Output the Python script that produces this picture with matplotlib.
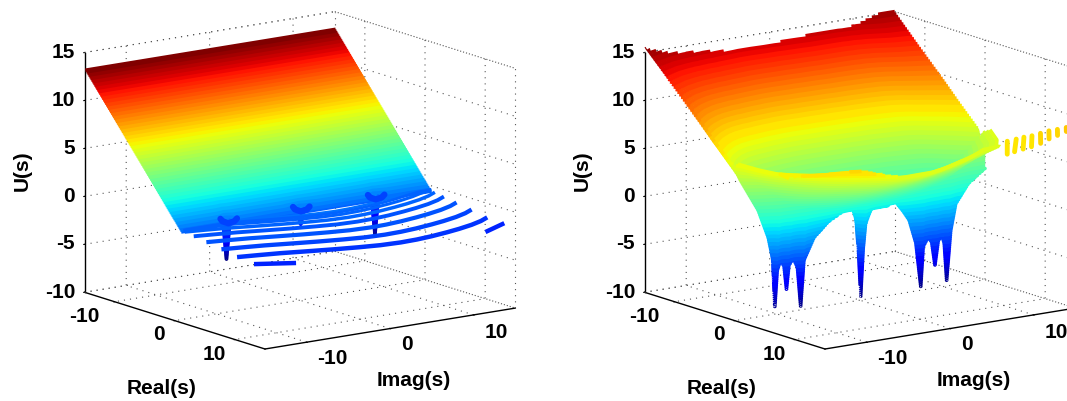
import numpy as np
import matplotlib
matplotlib.use("Agg")
import matplotlib.pyplot as plt
from matplotlib.colors import Normalize
from mpl_toolkits.mplot3d import proj3d

plt.rcParams['font.family'] = ['Liberation Sans', 'DejaVu Sans']

# ---- axis text ----
tick_xy = [-10, 0, 10]
tick_z = [-10, -5, 0, 5, 10, 15]
xy_labels = ['-10', '0', '10']
z_labels = ['-10', '-5', '0', '5', '10', '15']

# pixel positions of the tick texts in the left panel (right panel is the same shifted)
real_label_px = [(84, 317), (158.5, 335), (214, 355)]
imag_label_px = [(332, 358), (406.5, 345), (496, 332)]
z_label_y = [292, 244, 196, 148, 100, 52]

# ---- left panel: surface ----
left_imag = [-15, -11, -9.6, -9.2, -8.8, -8.4, -8, -2, -0.4, 0.1, 0.6, 2, 7.6, 8.6, 9, 9.4, 10.4, 15]
left_real = [-15, -10, -5, -2, -0.5, -0.15, 0, 0.15, 0.5, 1.2]
left_plane = [13.3, 9.0, 4.7, 2.1, 0.8, 0.5, 0.4, 0.25, -0.05, -0.65]
left_needle_weight = [0, 0, 0, 0, 0.04, 0.5, 1, 0.5, 0.04, 0]
left_needle = [0.4, 0.4, 0.3, -0.8, -4.6, -0.8, 0.3, 0.4, -0.4, -2.2, -0.4, 0.4, 0.4, -0.8, -4.5, -0.8, 0.3, 0.4]

arc_imag = [-14.6, -12.5, -10.2, -7.5, -5, -2.5, -0.3, 2, 4, 6, 8.2, 10, 12, 13.7, 15.1]
arc_real = [9.8, 10.3, 10.9, 11.8, 12.6, 13.3, 13.8, 14, 13.9, 13.6, 13.1, 12.6, 11.9, 11.1, 10.2]
arc_shift = [0, -2.6, -5.1, -7.2, -8.7, -9.8, -10.5, -11]
arc_level = [-1.5, -1.2, -0.95, -0.75, -0.6, -0.5, -0.45, -0.4]
arc_width = [3.2, 3.1, 3.0, 2.8, 2.5, 2.2, 2.0, 1.8]
arc_floor = 0.9
short_imag = [-14.3, -10.7]
short_real = [12.2, 14.2]
short2_imag = [12, 15.7]
short2_real = [14.2, 12.2]
short_level = -1.8

funnel_imag = [-8, 0.7, 9.6]
funnel_real = [-0.8, -0.8, -0.7]
funnel_level = -1.0
funnel_shape_imag = [0.5, 0.03, 0, 0.97, 1.9]
funnel_shape_real = [-2, -1.03, 0, -0.35, -1.2]

# ---- right panel: surface ----
right_imag = [-15, -14.3, -12.2, -11, -10.44, -10.2, -9.9, -9.5, -9.1, -8.8, -8.5, -8, -7.5, -7.1, -6.7, -5.5,
              -4.5, -3.8, -2.3, -0.8, -0.2, 0.1, 0.5, 1.3, 3.4, 4.3, 5.2, 5.9, 6.7, 7.3,
              7.6, 8.2, 8.6, 9, 9.4, 9.8, 10.1, 10.4, 10.9, 11.5, 13, 15]
right_needle = [6, 4.5, 1.1, -1.9, -4.3, -9.4, -5.5, -4.5, -5.2, -7.7, -5.2, -4.5, -5.5, -9.7, -4.9, -2.7,
                -1.9, -1.3, -0.6, -0.4, -2.5, -9.7, -2.5, -0.8, -0.6, -0.4, -1.5, -2.5, -5, -9.7,
                -5.5, -4.6, -5.2, -7.7, -5.2, -4.6, -5.5, -9.5, -4.3, -1.6, 0.3, 1.6]
right_top = [15.5, 15.2, 14.6, 14.4, 14.3, 14.3, 14.2, 14.2, 14.2, 14.1, 14.1, 14, 14, 14, 13.9, 13.8,
             13.7, 13.6, 13.6, 13.7, 13.7, 13.7, 13.7, 13.8, 13.9, 14, 14, 14, 14, 14,
             14, 14, 14.1, 14.1, 14.1, 14.2, 14.3, 14.3, 14.4, 14.6, 15, 15]
right_valley = [6.5, 5.4, 3.6, 2.6, 2.1, 2, 1.8, 1.5, 1.3, 1.2, 1.1, 0.9, 0.8, 0.7, 0.6, 0.3,
                0.2, 0.1, 0, 0, 0, 0, 0, 0, 0, 0.1, 0.15, 0.2, 0.4, 0.5,
                0.6, 0.7, 0.8, 0.9, 1, 1.2, 1.4, 1.6, 2, 2.6, 3.8, 5.5]
right_rim_real = [9, 11, 13, 13.5, 13.8, 13.9, 14, 14, 14, 14, 13.9, 13.8, 13.7, 13.6, 13.5, 13.3,
                  13.2, 13.1, 13.05, 13, 12.9, 12.7, 12.6, 12.3, 11.3, 10.8, 10.4, 10, 9.6, 9.2,
                  9, 8.7, 8.4, 8, 8, 7.9, 7.9, 7.8, 7.8, 7.2, 5, 0.8]
right_rim_u = [6.6, 7.1, 7.5, 7.6, 7.6, 7.6, 7.6, 7.5, 7.4, 7.3, 7.2, 7, 6.9, 6.8, 6.6, 6.3,
               6.1, 6, 6, 6, 6, 6, 6, 6, 6, 6, 6, 6, 6, 6,
               6, 6, 6, 6, 6, 6, 6, 6, 6, 6, 5.9, 5.8]
back_real = [-15, -11, -7, -4, -2, -1]
back_fraction = [1, 0.71, 0.43, 0.21, 0.07, 0]
near_real = [-0.4, 0]
near_weight = [0.5, 1]
front_part = [0.03, 0.08, 0.2, 0.4, 0.7, 1.0]
front_fraction = [0, 0.06, 0.2, 0.42, 0.72, 1.0]
front_weight = [0.5, 0, 0, 0, 0, 0]

tail_imag_low = [7.35, 8.3, 9.4, 10.4, 11.5, 12.8, 14.1, 15.3]
tail_real_low = [14.3, 14.2, 14.1, 14.1, 14.1, 13.7, 13.3, 13.1]
tail_imag_high = [10.6, 11.6, 12.45, 13.2, 14, 14.8, 15.6, 16.3]
tail_real_high = [9.8, 9.9, 10, 10.3, 10.6, 10.9, 11.2, 11.7]
tail_u = [7, 7.1, 7.2, 7.3, 7.5, 7.7, 7.8, 8]

# ---- colour ranges ----
left_range = (-4.6, 13.3)
right_range = (-10, 15.9)
jet = matplotlib.colormaps['jet'].resampled(64)

fig = plt.figure(figsize=(10.67, 4.01), dpi=100)
FW, FH = 1067, 401
FS = 15


def to_px(ax, x, y, z):
    xs, ys, _ = proj3d.proj_transform(x, y, z, ax.get_proj())
    return ax.transData.transform((xs, ys))


def make_axes():
    ax = fig.add_axes([0.1, 0.05, 0.5, 0.5], projection='3d', proj_type='ortho')
    ax.computed_zorder = False
    ax.patch.set_alpha(0)
    ax.view_init(elev=13.1, azim=-125.8)
    ax.set_box_aspect((309, 309, 246.5), zoom=1.0)
    return ax


def finish_axes(ax, zero_x):
    ax.set_xlim(-15, 15)
    ax.set_ylim(15, -15)
    ax.set_zlim(-10, 15)
    ax.set_xticks(tick_xy)
    ax.set_yticks(tick_xy)
    ax.set_zticks(tick_z)
    ax.set_xticklabels([])
    ax.set_yticklabels([])
    ax.set_zticklabels([])
    for axis in (ax.xaxis, ax.yaxis, ax.zaxis):
        axis.pane.set_edgecolor('none')
        axis.pane.set_facecolor('none')
        axis._axinfo['grid'].update(color='#555555', linewidth=0.8, linestyle=(0, (1, 4.5)))
        axis._axinfo['tick'].update(inward_factor=0.035, outward_factor=0.0)
        axis._axinfo['axisline']['color'] = 'black'
        axis.line.set_linewidth(1.0)
    for xs, ys, zs in [([15, 15], [-15, -15], [-10, 15]), ([-15, 15], [-15, -15], [15, 15]),
                       ([15, 15], [-15, 15], [15, 15]), ([15, 15], [15, 15], [-10, 15]),
                       ([15, 15], [-15, 15], [-10, -10]), ([-15, 15], [-15, -15], [-10, -10])]:
        ax.plot(xs, ys, zs, color='#555555', lw=0.8, ls=(0, (1, 4.5)), zorder=1)
    side, cx, cy = 400.0, zero_x + 200, 200.0
    target_front = np.array([zero_x + 180.5, FH - 349.0])
    target_left = np.array([zero_x, FH - 292.0])
    for _ in range(4):
        ax.set_position([(cx - side / 2) / FW, (cy - side / 2) / FH, side / FW, side / FH])
        ax.apply_aspect()
        f = to_px(ax, -15, 15, -10)
        l = to_px(ax, -15, -15, -10)
        side *= (target_front[0] - target_left[0]) / (f[0] - l[0])
        ax.set_position([(cx - side / 2) / FW, (cy - side / 2) / FH, side / FW, side / FH])
        ax.apply_aspect()
        f = to_px(ax, -15, 15, -10)
        cx += target_front[0] - f[0]
        cy += target_front[1] - f[1]
    ax.set_position([(cx - side / 2) / FW, (cy - side / 2) / FH, side / FW, side / FH])


def put(dx, x, y, s, **kw):
    fig.text((dx + x) / FW, 1 - y / FH, s, fontsize=FS, fontweight='bold', **kw)


def labels(dx):
    put(dx, 162, 389, 'Real(s)', ha='center', va='center')
    put(dx, 414, 380, 'Imag(s)', ha='center', va='center')
    put(dx, 22, 171, 'U(s)', ha='center', va='center', rotation=90)
    for (x, y), s in zip(real_label_px, xy_labels):
        put(dx, x, y, s, ha='center', va='center')
    for (x, y), s in zip(imag_label_px, xy_labels):
        put(dx, x, y, s, ha='center', va='center')
    for y, s in zip(z_label_y, z_labels):
        put(dx, 75, y, s, ha='right', va='center')


# ---------- left ----------
axL = make_axes()
normL = Normalize(*left_range)
im = np.array(left_imag)
re = np.array(left_real)
X, Y = np.meshgrid(im, re)
plane = np.array(left_plane)
wL = np.array(left_needle_weight)
ZL = plane[:, None] + wL[:, None] * (np.array(left_needle) - plane[6])
levL = np.arange(left_range[0], left_range[1] + 0.3, 0.14)
axL.contour(X, Y, ZL, levels=levL, cmap=jet, norm=normL, linewidths=2.6, zorder=3)
for sh, lv, w in zip(reversed(arc_shift), reversed(arc_level), reversed(arc_width)):
    axL.plot(arc_imag, np.maximum(np.array(arc_real) + sh, arc_floor), [lv] * len(arc_imag),
             color=jet(normL(lv)), lw=w, solid_capstyle='butt', zorder=4)
for si, sr in ((short_imag, short_real), (short2_imag, short2_real)):
    axL.plot(si, sr, [short_level] * 2, color=jet(normL(short_level)), lw=3.2,
             solid_capstyle='butt', zorder=4)
for fi, fr in zip(funnel_imag, funnel_real):
    axL.plot(fi + np.array(funnel_shape_imag), fr + np.array(funnel_shape_real),
             [funnel_level] * len(funnel_shape_imag), color=jet(normL(funnel_level)), lw=4.5,
             solid_capstyle='round', zorder=5)
finish_axes(axL, 84.5)
labels(0)

# ---------- right ----------
axR = make_axes()
normR = Normalize(*right_range)
imR = np.array(right_imag)
needle = np.array(right_needle)
top = np.array(right_top)
valley = np.array(right_valley)
rim_re = np.array(right_rim_real)
rim_u = np.array(right_rim_u)
rows_y, rows_z = [], []
for r, f in zip(back_real, back_fraction):
    rows_y.append(np.full_like(imR, r, dtype=float))
    rows_z.append(valley + (top - valley) * f)
for r, w in zip(near_real, near_weight):
    rows_y.append(np.full_like(imR, r, dtype=float))
    rows_z.append(valley + (needle - valley) * w)
for t, f, w in zip(front_part, front_fraction, front_weight):
    rows_y.append(rim_re * t)
    rows_z.append(valley + (rim_u - valley) * f + (needle - valley) * w)
YR = np.array(rows_y)
ZR = np.array(rows_z)
XR = np.tile(imR, (YR.shape[0], 1))
levR = np.arange(right_range[0], right_range[1] + 0.2, 0.2)
axR.contour(XR, YR, ZR, levels=levR, cmap=jet, norm=normR, linewidths=2.6, zorder=3)
for i0, r0, i1, r1, u in zip(tail_imag_low, tail_real_low, tail_imag_high, tail_real_high, tail_u):
    axR.plot([i0, i1], [r0, r1], [u, u], color=jet(normR(u)), lw=3.5, solid_capstyle='round', zorder=2.5)
finish_axes(axR, 644.5)
labels(560)

fig.savefig('out.png', dpi=100)
